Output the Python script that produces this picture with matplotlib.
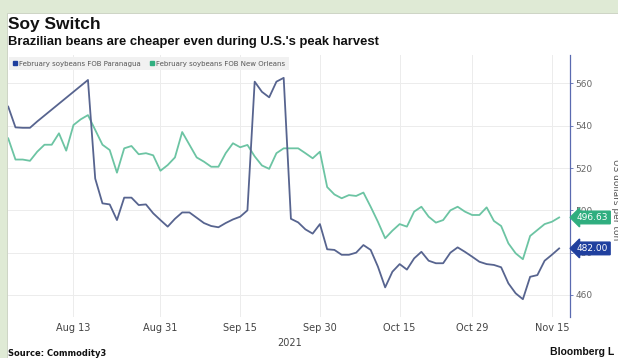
import numpy as np
import pandas as pd
import matplotlib
import matplotlib.pyplot as plt
from matplotlib.patches import Rectangle, Patch

matplotlib.use('Agg')

# business days, Aug 2 - Nov 16 2021
dates = pd.bdate_range('2021-08-02', '2021-11-16')

# February soybeans FOB Paranagua (gap in early Aug is drawn as a straight line)
paranagua = [549, 539.2, 539, 539, 542,
             np.nan, np.nan, np.nan, np.nan, np.nan, np.nan,
             561.6, 515, 503.3, 502.8, 495.4, 506, 506, 502.5, 502.8, 498.6,
             495.4, 492.3, 496, 499, 499, 496.5, 494, 492.6, 492, 494,
             495.7, 497, 500, 560.8, 556, 553.4, 560.8, 562.6, 496, 494.3,
             491, 489, 493.5, 481.6, 481.3, 479, 479, 480, 483.6, 481.3,
             473.4, 463.6, 471, 474.6, 472, 477.3, 480.4, 476.2, 475, 475,
             480, 482.5, 480.4, 478.1, 475.7, 474.6, 474.2, 473.1, 465.5, 460.8,
             458, 468.6, 469.4, 476.2, 479, 482.0]

# February soybeans FOB New Orleans
new_orleans = [534, 524, 524, 523.4, 527.7, 531, 531, 536.4, 528.2, 540.3,
               543, 545, 538, 531, 528.5, 517.8, 529.3, 530.4, 526.5, 527,
               526, 518.7, 521.4, 525, 537, 531, 525, 523, 520.6, 520.6,
               527, 531.7, 529.8, 530.9, 525.5, 521.2, 519.6, 527, 529.3, 529.3,
               529.3, 527, 524.6, 527.7, 511, 507.5, 505.7, 507.2, 506.8, 508.4,
               501.7, 494.6, 486.8, 490.4, 493.5, 492.3, 499.4, 501.7, 497, 494.2,
               495.4, 500, 501.7, 499.4, 497.8, 497.8, 501.4, 495, 492.6, 484.4,
               479.7, 476.9, 487.9, 490.7, 493.5, 494.6, 496.63]

tick_dates = ['2021-08-13', '2021-08-31', '2021-09-15', '2021-09-30',
              '2021-10-15', '2021-10-29', '2021-11-15']
y_ticks = [460, 480, 500, 520, 540, 560]

PARA_LINE = '#57648f'
PARA_TAG = '#1f3f9e'
NOLA_LINE = '#6cc4a3'
NOLA_TAG = '#2fae7f'

fig = plt.figure(figsize=(6.18, 3.58), dpi=100, facecolor='#dfead5')
# white card behind everything
fig.patches.append(Rectangle((7 / 618, 0), 1, 1 - 13 / 358, transform=fig.transFigure,
                             facecolor='white', edgecolor='#c8d0c0', linewidth=0.6, zorder=-5))

ax = fig.add_axes([7.5 / 618, 1 - 317 / 358, (570 - 7.5) / 618, (317 - 55) / 358])
ax.set_facecolor('white')
ax.set_zorder(2)

pos = pd.Series(np.arange(len(dates)), index=dates)
para = pd.Series(paranagua, index=pos.values).dropna()
nola = pd.Series(new_orleans, index=pos.values)

ax.plot(nola.index, nola.values, color=NOLA_LINE, lw=1.3, zorder=3)
ax.plot(para.index, para.values, color=PARA_LINE, lw=1.3, zorder=4)

ax.set_xlim(-0.1, 77.5)
ax.set_ylim(449.6, 573.4)

tick_pos = [pos[pd.Timestamp(d)] for d in tick_dates]
ax.set_xticks(tick_pos)
ax.set_xticklabels([pd.Timestamp(d).strftime('%b %-d') for d in tick_dates])
ax.tick_params(axis='x', length=0, labelsize=7, labelcolor='#444444', pad=4.5)

ax.yaxis.tick_right()
ax.set_yticks(y_ticks)
ax.tick_params(axis='y', length=2.5, width=0.6, color='#5a6ab0', labelsize=6.5,
               labelcolor='#666666', pad=1.5)

ax.grid(True, color='#ececec', lw=0.7)
ax.set_axisbelow(True)
for s in ['top', 'left', 'bottom']:
    ax.spines[s].set_visible(False)
ax.spines['right'].set_color('#5a6ab0')
ax.spines['right'].set_linewidth(0.9)

fig.text(290 / 618, 1 - 343 / 358, '2021', fontsize=7, color='#444444',
         ha='center', va='center')
fig.text(611 / 618, 1 - 200 / 358, 'US dollars per ton', fontsize=6.5, color='#555555',
         rotation=270, va='center', ha='left')

# end value tags
for val, col in [(new_orleans[-1], NOLA_TAG), (paranagua[-1], PARA_TAG)]:
    ax.annotate(f'{val:.2f}', xy=(1, val), xycoords=('axes fraction', 'data'),
                xytext=(5, 0), textcoords='offset points', fontsize=6.5, color='white',
                va='center', ha='left', annotation_clip=False, zorder=10,
                bbox=dict(boxstyle='larrow,pad=0.2', fc=col, ec=col))

leg = ax.legend(handles=[Patch(color=PARA_TAG, label='February soybeans FOB Paranagua'),
                         Patch(color=NOLA_TAG, label='February soybeans FOB New Orleans')],
                loc='upper left', bbox_to_anchor=(0.0, 1.0), ncol=2, fontsize=5.0,
                frameon=True, fancybox=False, facecolor='#f1f1f1', edgecolor='none',
                framealpha=1, handlelength=0.6, handleheight=0.6, handletextpad=0.3,
                columnspacing=1.3, borderpad=0.55, borderaxespad=0.25)
for t in leg.get_texts():
    t.set_color('#555555')

fig.text(8 / 618, 1 - 25 / 358, 'Soy Switch', fontsize=12.5, fontweight='bold',
         family='Liberation Sans', color='#111111', va='center', ha='left')
fig.text(8 / 618, 1 - 42 / 358, "Brazilian beans are cheaper even during U.S.'s peak harvest",
         fontsize=9.4, fontweight='bold', family='Liberation Sans', color='#111111',
         va='center', ha='left')
fig.text(8 / 618, 1 - 354 / 358, 'Source: Commodity3', fontsize=6, fontweight='bold',
         color='#111111', va='center', ha='left')
fig.text(550 / 618, 1 - 352 / 358, 'Bloomberg L', fontsize=7.5, fontweight='bold',
         family='Liberation Sans', color='#111111', va='center', ha='left')

fig.savefig('out.png', dpi=100, facecolor=fig.get_facecolor())
